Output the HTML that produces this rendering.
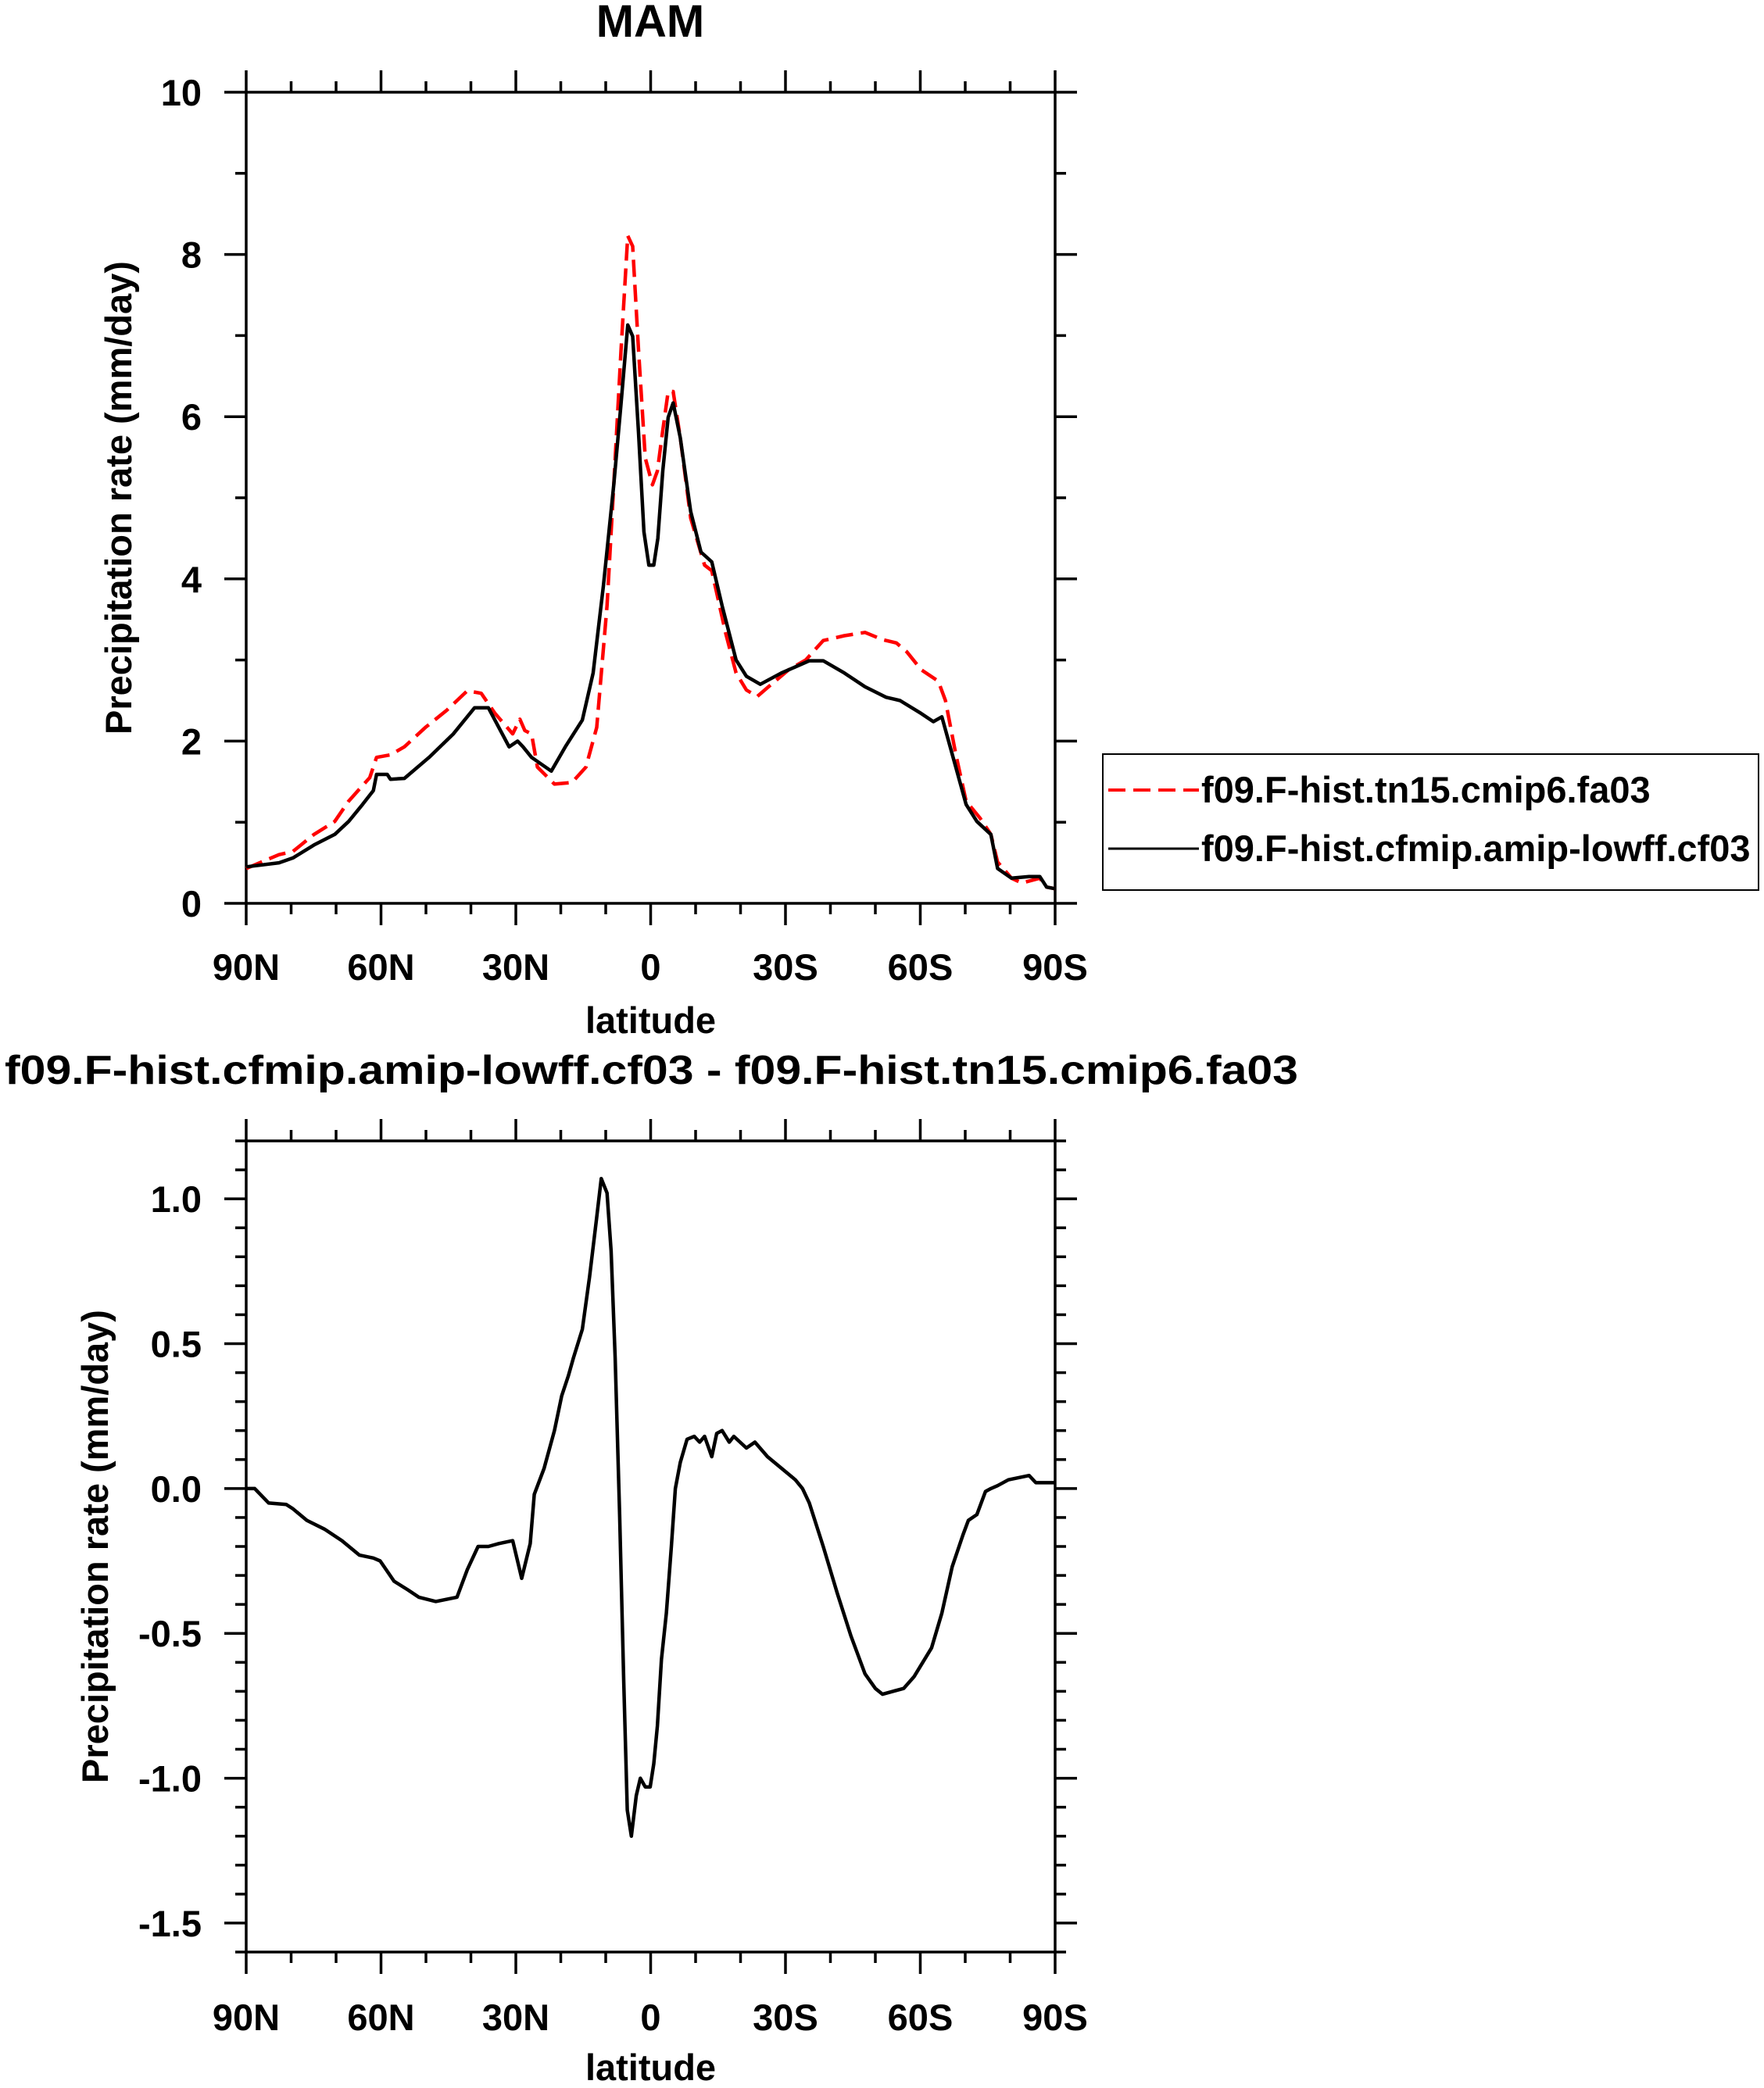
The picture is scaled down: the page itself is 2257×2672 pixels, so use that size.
<!DOCTYPE html>
<html><head><meta charset="utf-8">
<style>
html,body{margin:0;padding:0;background:#fff;}
svg{display:block;font-family:"Liberation Sans",sans-serif;font-weight:bold;}
</style></head>
<body>
<svg id="chart" width="2257" height="2672" viewBox="0 0 2257 2672" xmlns="http://www.w3.org/2000/svg"></svg>
<script>
// Top panel data (latitude, mm/day)
const topLatRed = [90,82.7,79.6,74.9,70.3,67.2,62.5,61,57.9,54.8,50.1,45.4,40.8,37.7,34.6,30.7,29.1,28,26.5,25.2,21.4,17.5,14.4,12,9.7,8.2,6.6,5.1,4,2.7,1.2,-0.4,-1.5,-2.7,-3.9,-5,-6.6,-8.9,-12,-13.6,-16.7,-19,-21.3,-23.7,-26,-30.7,-34.5,-38.4,-43.1,-47.7,-51.6,-54.7,-57,-60.2,-64,-65.6,-67.9,-70.2,-73.3,-75.7,-77.2,-80.3,-82.6,-86.6,-88.1,-90];
const topValRed = [0.43,0.6,0.64,0.85,1.01,1.26,1.55,1.8,1.83,1.93,2.17,2.38,2.62,2.59,2.34,2.09,2.27,2.13,2.09,1.68,1.47,1.49,1.68,2.17,3.67,5.16,6.82,8.23,8.1,6.82,5.49,5.16,5.33,5.83,6.31,6.31,5.74,4.75,4.17,4.1,3.33,2.84,2.63,2.55,2.66,2.88,3.0,3.24,3.3,3.34,3.25,3.21,3.1,2.88,2.74,2.5,1.84,1.26,1.05,0.85,0.51,0.31,0.25,0.31,0.2,0.18];
const topLatBlack = [90,82.7,79.6,74.9,70.3,67.2,64.1,61.7,61,58.6,57.9,54.8,49.3,43.9,39.2,36.1,31.5,29.6,28.4,26.5,22.1,19,15.2,12.8,10.5,8.2,6.6,5.1,4,2.7,1.5,0.4,-0.7,-1.6,-2.7,-3.9,-5,-6.6,-8.9,-11.2,-13.6,-15.9,-19,-21.3,-24.4,-29.1,-35.3,-38.4,-43.1,-47.7,-52.4,-55.5,-60.2,-62.9,-64.8,-67.1,-70.2,-72.6,-75.7,-77.2,-80.3,-84.2,-86.6,-88.1,-90];
const topValBlack = [0.45,0.5,0.56,0.72,0.85,1.01,1.22,1.39,1.59,1.59,1.53,1.54,1.8,2.09,2.41,2.41,1.93,2.0,1.93,1.8,1.63,1.93,2.26,2.84,3.92,5.16,6.16,7.13,6.99,5.8,4.58,4.17,4.17,4.5,5.33,5.99,6.17,5.74,4.83,4.33,4.21,3.67,3.0,2.8,2.7,2.84,2.99,2.99,2.84,2.67,2.54,2.5,2.34,2.24,2.3,1.84,1.22,1.01,0.85,0.43,0.31,0.33,0.33,0.2,0.18];
// Bottom panel data (difference)
const diffLat = [90,88.1,85,81.1,79.6,76.5,72.6,68.7,64.8,61.7,60.2,57.1,54,51.6,47.8,43.1,40.8,38.4,36.1,33.8,30.7,28.7,26.8,25.9,23.7,21.4,19.8,18.3,17.2,15.2,13.6,12.05,11,9.7,8.8,7.9,6.9,6,5.2,4.3,3.2,2.3,1.2,0.1,-0.7,-1.5,-2.4,-3.5,-4.6,-5.5,-6.6,-8.1,-9.7,-10.9,-12,-13.6,-14.7,-15.9,-17.5,-18.5,-21.3,-23.2,-26,-29.1,-32.2,-33.8,-35.3,-38.4,-41.5,-44.6,-47.7,-50,-51.6,-53.9,-56.3,-58.6,-62.5,-64.8,-67.1,-69.5,-70.7,-72.6,-74.5,-75.7,-77.2,-79.6,-84.2,-85.7,-88.1,-90];
const diffVal = [0,0,-0.05,-0.055,-0.07,-0.11,-0.14,-0.18,-0.23,-0.24,-0.25,-0.32,-0.35,-0.375,-0.39,-0.375,-0.28,-0.2,-0.2,-0.19,-0.18,-0.31,-0.19,-0.02,0.07,0.2,0.32,0.39,0.45,0.55,0.73,0.93,1.07,1.02,0.82,0.45,-0.09,-0.66,-1.11,-1.2,-1.06,-1.0,-1.03,-1.03,-0.95,-0.82,-0.59,-0.43,-0.2,0,0.09,0.17,0.18,0.16,0.18,0.11,0.19,0.2,0.16,0.18,0.14,0.16,0.11,0.07,0.03,0,-0.05,-0.2,-0.36,-0.51,-0.64,-0.69,-0.71,-0.7,-0.69,-0.65,-0.55,-0.43,-0.27,-0.16,-0.11,-0.09,-0.01,0,0.01,0.03,0.045,0.02,0.02,0.02];
const xTickLabels = ["90N","60N","30N","0","30S","60S","90S"];
const xTickLats = [90,60,30,0,-30,-60,-90];
const topYTicks = [0,2,4,6,8,10];
const botYTicks = [-1.5,-1.0,-0.5,0.0,0.5,1.0];
const botYLabels = ["-1.5","-1.0","-0.5","0.0","0.5","1.0"];

const NS="http://www.w3.org/2000/svg";
const svg=document.getElementById('chart');
function mk(tag,attrs,parent){const e=document.createElementNS(NS,tag);for(const k in attrs)e.setAttribute(k,attrs[k]);(parent||svg).appendChild(e);return e;}
const X0=315,X1=1350;
function xs(lat){return X0+(90-lat)/180*(X1-X0);}

function panel(name,yTop,yBot,vmin,vmax,majors,majorLabels,minorStep,yLabelX,xLabY,latY){
  const g=mk('g',{});
  
  
  const ys=v=>yBot-(v-vmin)/(vmax-vmin)*(yBot-yTop);
  const frame=mk('rect',{x:X0,y:yTop,width:X1-X0,height:yBot-yTop,fill:'none',stroke:'#000','stroke-width':3.5},g);
  
  
  for(let lat=90;lat>=-90;lat-=10){
    const maj=(lat%30===0);const L=maj?28:14;const x=xs(lat);
    mk('line',{x1:x,x2:x,y1:yBot,y2:yBot+L,stroke:'#000','stroke-width':3.5},g);
    mk('line',{x1:x,x2:x,y1:yTop,y2:yTop-L,stroke:'#000','stroke-width':3.5},g);
  }
  const n=Math.round((vmax-vmin)/minorStep);
  for(let i=0;i<=n;i++){
    const v=vmin+i*minorStep;const maj=majors.some(m=>Math.abs(m-v)<1e-6);const L=maj?28:14;const y=ys(v);
    mk('line',{x1:X0,x2:X0-L,y1:y,y2:y,stroke:'#000','stroke-width':3.5},g);
    mk('line',{x1:X1,x2:X1+L,y1:y,y2:y,stroke:'#000','stroke-width':3.5},g);
  }
  majors.forEach((m,i)=>{
    const t=mk('text',{x:258,y:ys(m)+17,'text-anchor':'end','font-size':47},g);
    t.textContent=majorLabels[i];
    
    
  });
  xTickLabels.forEach((lab,i)=>{
    const t=mk('text',{x:xs(xTickLats[i]),y:xLabY,'text-anchor':'middle','font-size':47},g);
    t.textContent=lab;
    
    
  });
  const xt=mk('text',{x:(X0+X1)/2,y:latY,'text-anchor':'middle','font-size':47},g);
  xt.textContent='latitude';
  
  
  const yc=(yTop+yBot)/2;
  const yt=mk('text',{x:yLabelX,y:yc,'text-anchor':'middle','font-size':47,transform:`rotate(-90 ${yLabelX} ${yc})`},g);
  yt.textContent='Precipitation rate (mm/day)';
  
  
  return ys;
}
function series(lats,vals,ys,color,dash,name){
  const d=lats.map((l,i)=>(i?'L':'M')+xs(l).toFixed(1)+' '+ys(vals[i]).toFixed(1)).join(' ');
  const p=mk('path',{d:d,fill:'none',stroke:color,'stroke-width':4.5,'stroke-linejoin':'round'});
  if(dash)p.setAttribute('stroke-dasharray',dash);
  
  
}

const t1=mk('text',{x:832,y:47,'text-anchor':'middle','font-size':58});
t1.textContent='MAM';


const ysTop=panel('top-panel',118,1156,0,10,topYTicks,topYTicks.map(String),1,168,1254,1322);
series(topLatRed,topValRed,ysTop,'#ff0000','22 10','series-tn15-cmip6');
series(topLatBlack,topValBlack,ysTop,'#000','', 'series-cfmip-lowff');

const lg=mk('g',{});


mk('rect',{x:1411,y:965,width:839,height:174,fill:'none',stroke:'#000','stroke-width':2},lg);
mk('line',{x1:1418,x2:1534,y1:1011,y2:1011,stroke:'#ff0000','stroke-width':4,'stroke-dasharray':'22 10'},lg);
mk('line',{x1:1418,x2:1534,y1:1086,y2:1086,stroke:'#000','stroke-width':3},lg);
const l1=mk('text',{x:1537,y:1027,'font-size':47},lg);
l1.textContent='f09.F-hist.tn15.cmip6.fa03';


const l2=mk('text',{x:1537,y:1102,'font-size':47},lg);
l2.textContent='f09.F-hist.cfmip.amip-lowff.cf03';



const t2=mk('text',{x:6,y:1387,'font-size':52,textLength:1655,lengthAdjust:'spacingAndGlyphs'});
t2.textContent='f09.F-hist.cfmip.amip-lowff.cf03 - f09.F-hist.tn15.cmip6.fa03';


const ysBot=panel('bottom-panel',1460,2498,-1.6,1.2,botYTicks,botYLabels,0.1,138,2598,2662);
series(diffLat,diffVal,ysBot,'#000','','series-difference');
</script>
</body></html>
